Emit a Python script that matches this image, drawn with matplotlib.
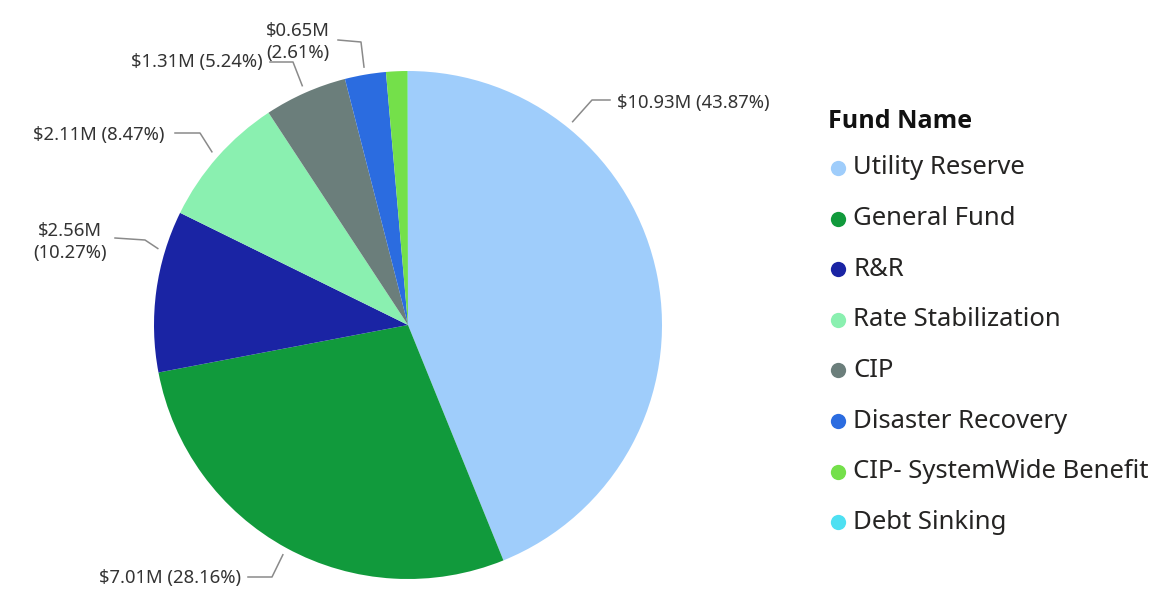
import numpy as np
import matplotlib
matplotlib.use("Agg")
import matplotlib.pyplot as plt
from matplotlib.lines import Line2D
from matplotlib.transforms import Affine2D

# Data
funds = ['Utility Reserve', 'General Fund', 'R&R', 'Rate Stabilization', 'CIP',
         'Disaster Recovery', 'CIP- SystemWide Benefit', 'Debt Sinking']
values = [10.93, 7.01, 2.56, 2.11, 1.31, 0.65, 0.34, 0.005]   # $M
pcts = [43.87, 28.16, 10.27, 8.47, 5.24, 2.61, 1.37, 0.02]
colors = ['#9fcdfb', '#119a3c', '#1a24a4', '#8af0b0', '#6b7e7b',
          '#2b6ce0', '#74e04a', '#4ee0f2']

W, H = 1170, 597
CX, CY, R = 408, 325, 254

plt.rcParams['font.family'] = ['Noto Sans', 'DejaVu Sans']
fig = plt.figure(figsize=(W / 100, H / 100), dpi=100)
pix = Affine2D().scale(1 / W, -1 / H).translate(0, 1) + fig.transFigure

ax = fig.add_axes([(CX - R) / W, (H - CY - R) / H, 2 * R / W, 2 * R / H])
wedges, _ = ax.pie(values, colors=colors, startangle=90, counterclock=False,
                   radius=1, wedgeprops=dict(linewidth=0))
ax.set_xlim(-1, 1)
ax.set_ylim(-1, 1)
ax.set_aspect('auto')
ax.axis('off')

# label layout: (anchor angle override, elbow px, line end px, text px, ha, two-line)
layout = [
    (51, (592, 100), (610, 100), (617, 103), 'left', False),
    (None, (272, 577), (248, 577), (241, 578), 'right', False),
    (163, (145, 240), (115, 238), (107, 242), 'right', True),
    (None, (200, 133), (175, 133), (164, 135), 'right', False),
    (None, (293, 62), (270, 62), (263, 62), 'right', False),
    (None, (361, 42), (338, 40), (330, 42), 'right', True),
]

for i, (ang, elbow, end, tpos, ha, two) in enumerate(layout):
    w = wedges[i]
    if ang is None:
        ang = (w.theta1 + w.theta2) / 2
    a = np.deg2rad(ang)
    ax0 = CX + R * 1.03 * np.cos(a)
    ay0 = CY - R * 1.03 * np.sin(a)
    fig.add_artist(Line2D([ax0, elbow[0], end[0]], [ay0, elbow[1], end[1]],
                          color='#8a8a8a', lw=1.1, transform=pix))
    sep = '\n' if two else ' '
    label = f'${values[i]:.2f}M{sep}({pcts[i]:.2f}%)'
    fig.text(tpos[0], tpos[1], label, transform=pix, ha=ha, va='center',
             fontsize=13.3, color='#333333', multialignment='center',
             linespacing=1.3)

# legend
fig.text(828, 122, 'Fund Name', transform=pix, fontsize=18, fontweight='bold',
         family=['Open Sans', 'DejaVu Sans'],
         color='#111111', va='center', ha='left')
for i, (name, c) in enumerate(zip(funds, colors)):
    y = 168 + i * 50.6
    fig.add_artist(Line2D([838], [y], marker='o', ms=11, color=c,
                          markeredgewidth=0, transform=pix))
    fig.text(853, y, name, transform=pix, fontsize=18.5, color='#252423',
             va='center', ha='left')

fig.savefig('out.png', dpi=100)
